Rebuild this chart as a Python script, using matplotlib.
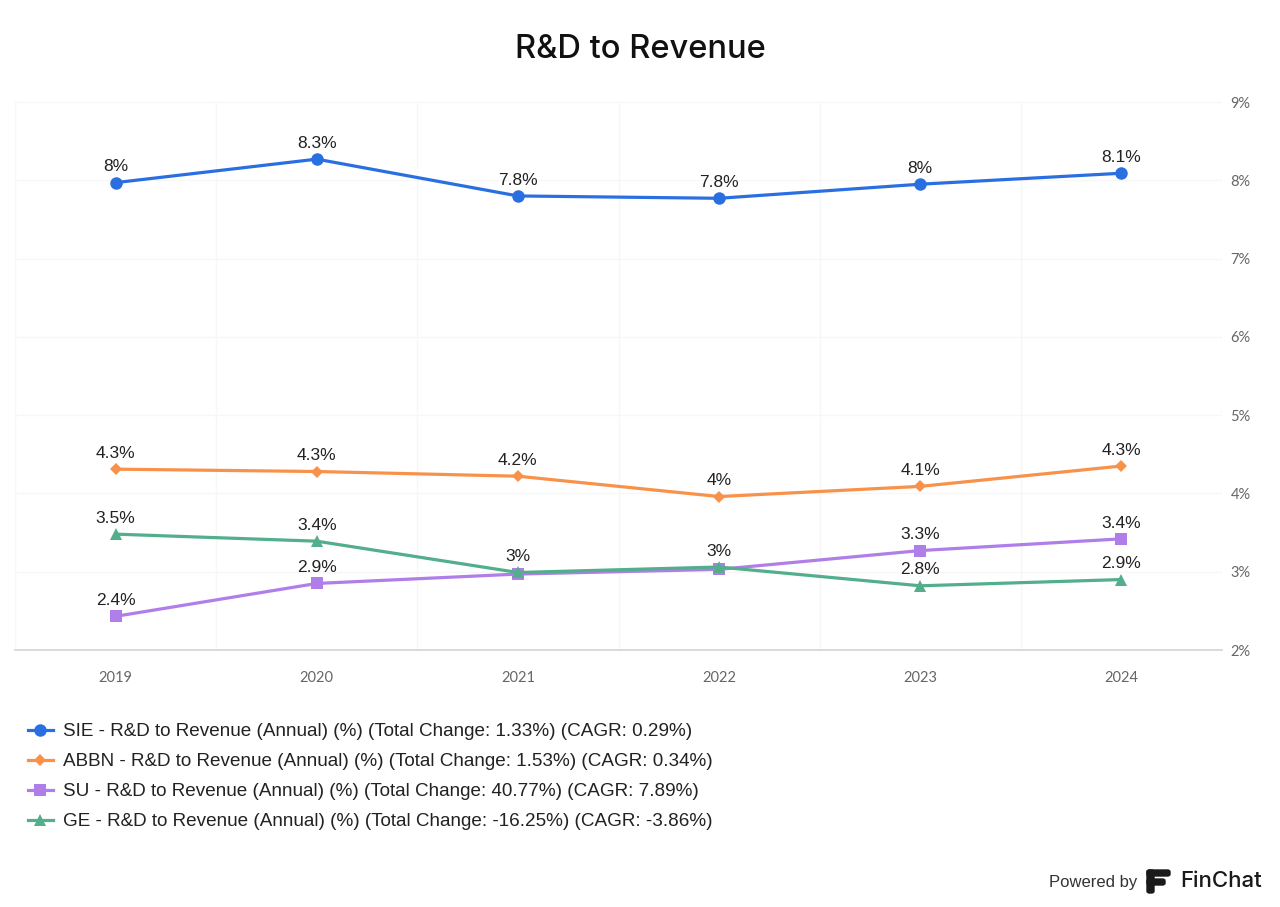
"""R&D to revenue comparison chart."""

import matplotlib

matplotlib.use("Agg")
import matplotlib.pyplot as plt
from matplotlib.patches import FancyBboxPatch
from matplotlib.ticker import FixedLocator, FuncFormatter

years = ["2019", "2020", "2021", "2022", "2023", "2024"]

sie = [7.97, 8.27, 7.80, 7.77, 7.95, 8.09]
abbn = [4.31, 4.28, 4.22, 3.96, 4.09, 4.35]
su = [2.43, 2.85, 2.97, 3.03, 3.27, 3.42]
ge = [3.48, 3.39, 2.99, 3.06, 2.82, 2.90]

sie_labels = ["8%", "8.3%", "7.8%", "7.8%", "8%", "8.1%"]
abbn_labels = ["4.3%", "4.3%", "4.2%", "4%", "4.1%", "4.3%"]
su_labels = ["2.4%", "2.9%", "", "", "3.3%", "3.4%"]
ge_labels = ["3.5%", "3.4%", "3%", "3%", "2.8%", "2.9%"]

legend_names = [
    "SIE - R&D to Revenue (Annual) (%) (Total Change: 1.33%) (CAGR: 0.29%)",
    "ABBN - R&D to Revenue (Annual) (%) (Total Change: 1.53%) (CAGR: 0.34%)",
    "SU - R&D to Revenue (Annual) (%) (Total Change: 40.77%) (CAGR: 7.89%)",
    "GE - R&D to Revenue (Annual) (%) (Total Change: -16.25%) (CAGR: -3.86%)",
]
y_ticks = [2, 3, 4, 5, 6, 7, 8, 9]

series = [
    (sie, sie_labels, "#2a6fe2", "o", 9),
    (abbn, abbn_labels, "#f8924a", "D", 6.5),
    (su, su_labels, "#b07ee9", "s", 8.5),
    (ge, ge_labels, "#52ae8b", "^", 9),
]

TEXT_FONT = ["Liberation Sans", "DejaVu Sans"]
GRID = "#f7f7f7"

fig = plt.figure(figsize=(12.8, 9.07), dpi=100)
ax = fig.add_axes([15 / 1280, 1 - 650 / 907, (1222 - 15) / 1280, (650 - 102) / 907])

x = list(range(len(years)))
handles = []
for (vals, labels, color, marker, ms), name in zip(series, legend_names):
    (h,) = ax.plot(x, vals, color=color, lw=2.3, marker=marker, ms=ms,
                   markeredgewidth=0, label=name, zorder=3)
    handles.append(h)
    for xi, v, lab in zip(x, vals, labels):
        if lab:
            ax.annotate(lab, (xi, v), xytext=(0, 6), textcoords="offset points",
                        ha="center", va="bottom", fontsize=12.5,
                        family=TEXT_FONT, color="#222222", zorder=4)

ax.set_xlim(-0.5, len(years) - 0.5)
ax.set_ylim(2, 9)
ax.set_xticks(x)
ax.set_xticklabels(years)
ax.xaxis.set_minor_locator(FixedLocator([i - 0.5 for i in range(len(years) + 1)]))
ax.yaxis.set_major_locator(FixedLocator(y_ticks))
ax.yaxis.set_major_formatter(FuncFormatter(lambda v, _: f"{v:g}%"))
ax.yaxis.tick_right()
ax.tick_params(axis="both", which="both", length=0, colors="#666666", labelsize=10.5)
ax.tick_params(axis="x", pad=15)
ax.tick_params(axis="y", pad=6)
for lbl in ax.get_xticklabels() + ax.get_yticklabels():
    lbl.set_family(["Lato", "DejaVu Sans"])
ax.grid(axis="y", which="major", color=GRID, lw=1)
ax.grid(axis="x", which="minor", color=GRID, lw=1)
ax.grid(axis="x", which="major", visible=False)
for side in ("top", "left", "right"):
    ax.spines[side].set_visible(False)
ax.spines["bottom"].set_color("#d4d4d4")
ax.spines["bottom"].set_linewidth(1.2)
ax.set_axisbelow(True)

fig.text(0.5, 1 - 50 / 907, "R&D to Revenue", ha="center", va="center",
         fontsize=23.5, family=["Inter", "DejaVu Sans"], weight="medium", color="#111111")

leg = fig.legend(handles=handles, loc="upper left", bbox_to_anchor=(11 / 1280, 1 - 706 / 907),
                 frameon=False, handlelength=1.3, handletextpad=0.55,
                 labelspacing=0.68, prop={"family": TEXT_FONT, "size": 13.6})
for t in leg.get_texts():
    t.set_color("#222222")

# "Powered by FinChat" badge
fig.text(1137 / 1280, 1 - 882 / 907, "Powered by", ha="right", va="center",
         fontsize=12, family=TEXT_FONT, color="#333333")
fig.text(1180 / 1280, 1 - 881 / 907, "FinChat", ha="left", va="center",
         fontsize=16, family=["Inter", "DejaVu Sans"], weight="medium", color="#1a1a1a")
for (x0, y0, w, h) in [(1147, 870, 23, 6), (1147, 879, 18, 6), (1147, 870, 7, 23)]:
    fig.patches.append(FancyBboxPatch((x0 / 1280, 1 - (y0 + h) / 907), w / 1280, h / 907,
                                      boxstyle="round,pad=0,rounding_size=0.002",
                                      transform=fig.transFigure, color="#1a1a1a"))

fig.savefig("out.png", dpi=100)
plt.close(fig)
